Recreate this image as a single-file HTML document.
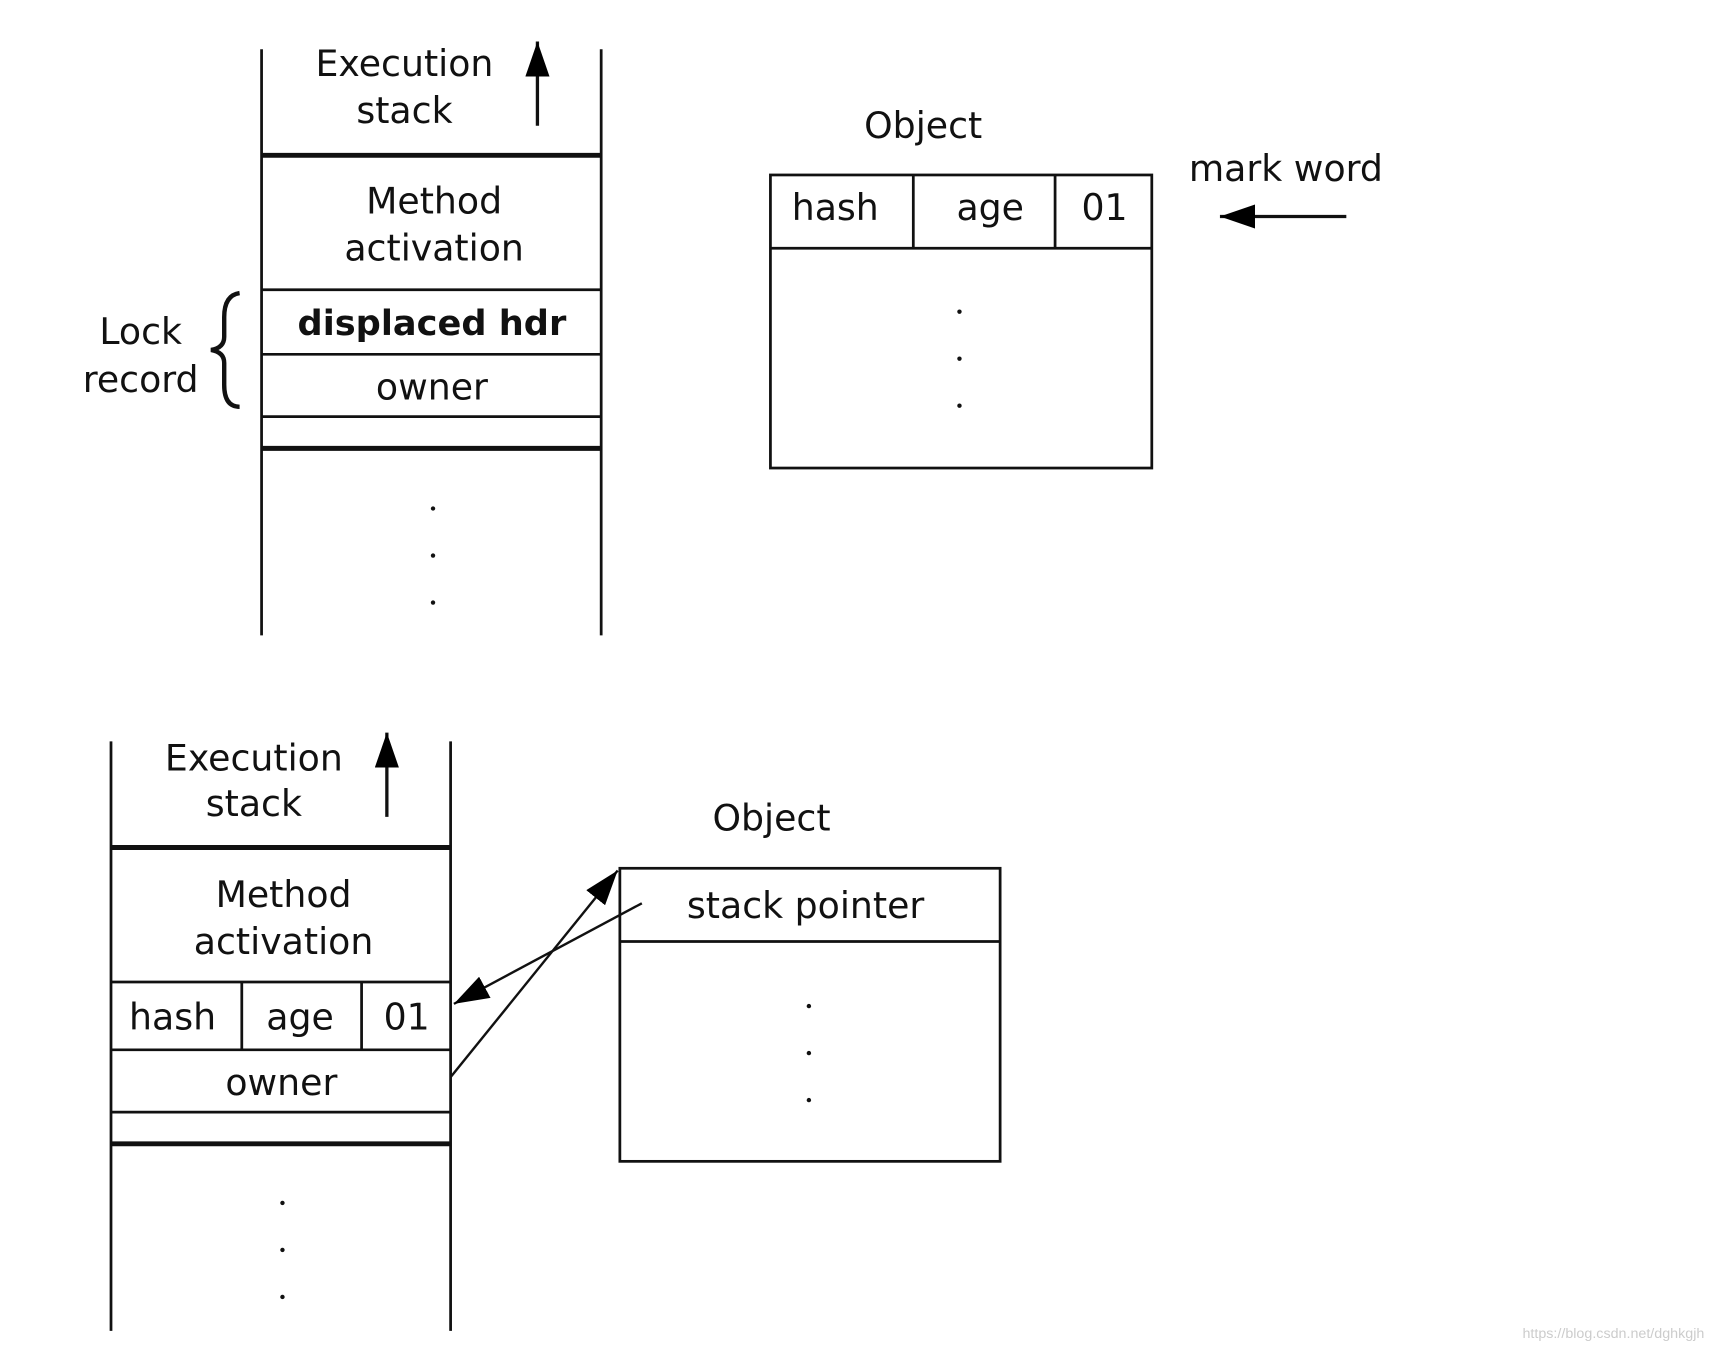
<!DOCTYPE html>
<html><head><meta charset="utf-8"><style>html,body{margin:0;padding:0;background:#fff}svg{display:block}</style></head>
<body>
<svg width="1720" height="1356" viewBox="0 0 1565 1240" preserveAspectRatio="none" xmlns="http://www.w3.org/2000/svg">
<defs>
<marker id="ah" viewBox="0 0 10 10" refX="10" refY="5" markerWidth="9" markerHeight="9" markerUnits="userSpaceOnUse" orient="auto"><path d="M0,0 L10,5 L0,10 z" fill="#000"/></marker>
<marker id="ah2" viewBox="0 0 10 10" refX="10" refY="5" markerWidth="32" markerHeight="22" markerUnits="userSpaceOnUse" orient="auto" preserveAspectRatio="none"><path d="M0,0 L10,5 L0,10 z" fill="#000"/></marker>
</defs>
<g stroke="#111" stroke-width="2.5" fill="none">
<!-- top stack -->
<line x1="238" y1="45" x2="238" y2="581"/><line x1="547" y1="45" x2="547" y2="581"/>
<line x1="238" y1="142" x2="547" y2="142" stroke-width="4.5"/>
<line x1="238" y1="265" x2="547" y2="265"/>
<line x1="238" y1="324" x2="547" y2="324"/>
<line x1="238" y1="381" x2="547" y2="381"/>
<line x1="238" y1="410" x2="547" y2="410" stroke-width="4.5"/>
<line x1="489" y1="115" x2="489" y2="38" stroke-width="3" marker-end="url(#ah2)"/>
<path d="M218,268 Q204,270 204,290 L204,308 Q204,318 192,320 Q204,322 204,332 L204,352 Q204,372 218,372" stroke-width="4"/>
<!-- top object -->
<rect x="701" y="160" width="347" height="268"/>
<line x1="701" y1="227" x2="1048" y2="227"/>
<line x1="831" y1="160" x2="831" y2="227"/><line x1="960" y1="160" x2="960" y2="227"/>
<line x1="1225" y1="198" x2="1110" y2="198" stroke-width="3" marker-end="url(#ah2)"/>
<!-- bottom stack -->
<line x1="101" y1="678" x2="101" y2="1217"/><line x1="410" y1="678" x2="410" y2="1217"/>
<line x1="101" y1="775" x2="410" y2="775" stroke-width="4.5"/>
<line x1="101" y1="898" x2="410" y2="898"/>
<line x1="101" y1="960" x2="410" y2="960"/>
<line x1="101" y1="1017" x2="410" y2="1017"/>
<line x1="101" y1="1046" x2="410" y2="1046" stroke-width="4.5"/>
<line x1="220" y1="898" x2="220" y2="960"/><line x1="329" y1="898" x2="329" y2="960"/>
<line x1="352" y1="747" x2="352" y2="670" stroke-width="3" marker-end="url(#ah2)"/>
<!-- bottom object -->
<rect x="564" y="794" width="346" height="268"/>
<line x1="564" y1="861" x2="910" y2="861"/>
<line x1="584" y1="826" x2="413" y2="918" stroke-width="2.2" marker-end="url(#ah2)"/>
<line x1="410" y1="985" x2="562" y2="796" stroke-width="2.2" marker-end="url(#ah2)"/>
</g>
<g font-family="DejaVu Sans, Liberation Sans, sans-serif" font-size="33" fill="#111" text-anchor="middle" dominant-baseline="central">
<text x="368" y="58">Execution</text><text x="368" y="101">stack</text>
<text x="395" y="184">Method</text><text x="395" y="227">activation</text>
<text x="393" y="296" font-weight="bold" font-size="32">displaced hdr</text>
<text x="393" y="354">owner</text>
<text x="128" y="303">Lock</text><text x="128" y="347">record</text>
<text x="840" y="115">Object</text>
<text x="760" y="190">hash</text><text x="901" y="190">age</text><text x="1005" y="190">01</text>
<text x="1170" y="154">mark word</text>
<text x="231" y="693">Execution</text><text x="231" y="735">stack</text>
<text x="258" y="818">Method</text><text x="258" y="861">activation</text>
<text x="157" y="930">hash</text><text x="273" y="930">age</text><text x="370" y="930">01</text>
<text x="256" y="990">owner</text>
<text x="702" y="748">Object</text>
<text x="733" y="828">stack pointer</text>
</g>
<g fill="#111">
<circle cx="394" cy="465" r="2"/><circle cx="394" cy="508" r="2"/><circle cx="394" cy="551" r="2"/>
<circle cx="873" cy="285" r="2"/><circle cx="873" cy="328" r="2"/><circle cx="873" cy="371" r="2"/>
<circle cx="257" cy="1100" r="2"/><circle cx="257" cy="1143" r="2"/><circle cx="257" cy="1186" r="2"/>
<circle cx="736" cy="920" r="2"/><circle cx="736" cy="963" r="2"/><circle cx="736" cy="1006" r="2"/>
</g>
<text x="1468" y="1220" font-family="Liberation Sans, sans-serif" font-size="13" fill="#ccc" text-anchor="middle" dominant-baseline="central">https://blog.csdn.net/dghkgjh</text>
</svg>
</body></html>
